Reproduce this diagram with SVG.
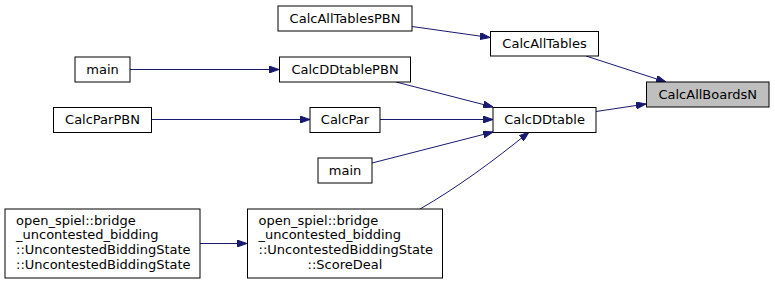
<svg xmlns="http://www.w3.org/2000/svg" width="775" height="285" viewBox="0 0 775 285">
<style>
  .node rect { fill: #ffffff; stroke: #000000; stroke-width: 1; }
  .node.hl rect { fill: #bfbfbf; }
  .node text { font-family: "DejaVu Sans", sans-serif; font-size: 13px; fill: #000000; }
  .c { text-anchor: middle; }
  .edges path { fill: none; stroke: #191970; stroke-width: 1; marker-end: url(#arr); }
</style>
<defs>
  <marker id="arr" viewBox="0 0 10 7" refX="10" refY="3.5" markerWidth="10" markerHeight="7" markerUnits="userSpaceOnUse" orient="auto">
    <path d="M0,0 L10,3.5 L0,7 z" fill="#191970" stroke="#191970" stroke-width="1"/>
  </marker>
</defs>
<rect width="775" height="285" fill="#ffffff"/>

<g class="edges" id="edges">
  <path d="M586,56 L666,82"/>
  <path d="M596,111.5 L646,104"/>
  <path d="M412,26.5 L490,37.5"/>
  <path d="M130,69.5 L279,69.5"/>
  <path d="M396,82 L493,107"/>
  <path d="M151,119.5 L310,119.5"/>
  <path d="M380,119.5 L493,119.5"/>
  <path d="M372,163 L493,132"/>
  <path d="M420,209 C455,189 495,160 529,132"/>
  <path d="M200,243.5 L247,243.5"/>
</g>

<g class="node hl" id="n_CalcAllBoardsN">
  <rect x="646.5" y="82" width="122.5" height="25"/>
  <text class="c" x="707.75" y="98.5">CalcAllBoardsN</text>
</g>
<g class="node" id="n_CalcAllTables">
  <rect x="490.5" y="31.5" width="108" height="24.5"/>
  <text class="c" x="544.5" y="47.8">CalcAllTables</text>
</g>
<g class="node" id="n_CalcAllTablesPBN">
  <rect x="278" y="6" width="134" height="25"/>
  <text class="c" x="345" y="22.5">CalcAllTablesPBN</text>
</g>
<g class="node" id="n_CalcDDtablePBN">
  <rect x="279.5" y="57" width="131" height="25"/>
  <text class="c" x="345" y="73.5">CalcDDtablePBN</text>
</g>
<g class="node" id="n_main1">
  <rect x="75" y="57" width="55" height="25"/>
  <text class="c" x="102.5" y="73.5">main</text>
</g>
<g class="node" id="n_CalcDDtable">
  <rect x="493" y="107.5" width="103" height="25"/>
  <text class="c" x="544.5" y="124">CalcDDtable</text>
</g>
<g class="node" id="n_CalcParPBN">
  <rect x="53.5" y="107.5" width="98" height="25"/>
  <text class="c" x="102.5" y="124">CalcParPBN</text>
</g>
<g class="node" id="n_CalcPar">
  <rect x="310" y="107.5" width="70" height="25"/>
  <text class="c" x="345" y="124">CalcPar</text>
</g>
<g class="node" id="n_main2">
  <rect x="318" y="158" width="54" height="25"/>
  <text class="c" x="345" y="174.5">main</text>
</g>
<g class="node" id="n_ScoreDeal">
  <rect x="247.5" y="209" width="195" height="69"/>
  <text x="258.5" y="224.5">open_spiel::bridge</text>
  <text x="258.5" y="239.2">_uncontested_bidding</text>
  <text x="258.5" y="253.9">::UncontestedBiddingState</text>
  <text class="c" x="345" y="268.6">::ScoreDeal</text>
</g>
<g class="node" id="n_UncontestedBiddingState">
  <rect x="5" y="209" width="195" height="69"/>
  <text x="16" y="224.5">open_spiel::bridge</text>
  <text x="16" y="239.2">_uncontested_bidding</text>
  <text x="16" y="253.9">::UncontestedBiddingState</text>
  <text x="16" y="268.6">::UncontestedBiddingState</text>
</g>
</svg>
